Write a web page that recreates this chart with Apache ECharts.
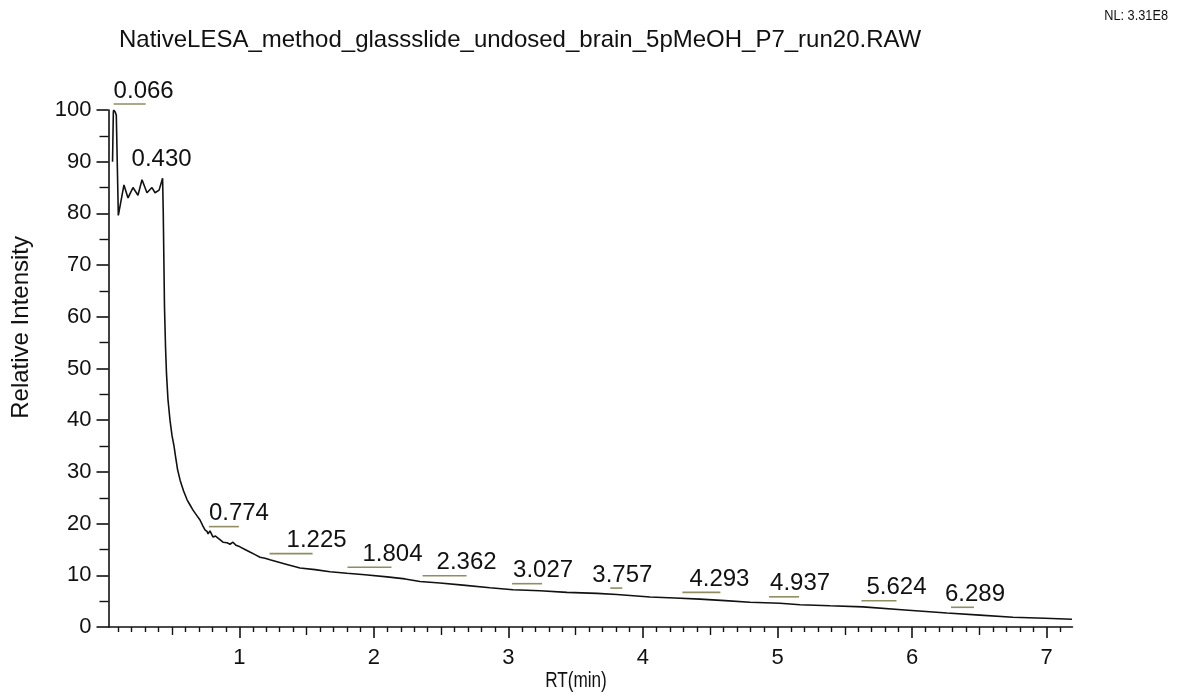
<!DOCTYPE html>
<html>
<head>
<meta charset="utf-8">
<script src="https://cdn.jsdelivr.net/npm/echarts@6/dist/echarts.min.js"></script>
<style>
  html, body { margin: 0; padding: 0; background: #fff; }
  #chart { width: 1185px; height: 700px; }
</style>
</head>
<body>
<div id="chart"></div>
<script>
// Chromatogram trace: retention time (min) and relative intensity (%)
const retentionTimes = [
  0.058, 0.064, 0.066, 0.078, 0.086, 0.101,
  0.143, 0.173, 0.210, 0.247, 0.277, 0.314, 0.351, 0.374, 0.404, 0.430,
  0.435, 0.439, 0.444, 0.452, 0.459, 0.470, 0.485, 0.500, 0.515, 0.526,
  0.541, 0.560, 0.586, 0.612, 0.634, 0.656, 0.686, 0.708, 0.730, 0.745,
  0.760, 0.768, 0.775, 0.782, 0.805, 0.823, 0.842, 0.879, 0.909, 0.931,
  0.953, 0.976, 1.005, 1.042, 1.079, 1.117, 1.154, 1.191, 1.228,
  1.340, 1.451, 1.563, 1.674, 1.800, 1.934, 2.098, 2.232, 2.343, 2.491,
  2.662, 2.863, 3.034, 3.235, 3.435, 3.658, 3.806, 4.052, 4.238, 4.424,
  4.610, 4.795, 5.018, 5.167, 5.390, 5.635, 5.947, 6.259, 6.504, 6.749,
  6.987, 7.188
];
const relativeIntensity = [
  90.0, 99.5, 100.0, 99.6, 99.0, 79.6,
  85.5, 83.0, 85.0, 83.5, 86.5, 84.0, 85.0, 84.0, 84.5, 86.8,
  80.0, 72.0, 62.0, 54.0, 49.0, 44.0, 40.0, 37.0, 35.0, 33.0,
  30.5, 28.4, 26.3, 24.6, 23.6, 22.6, 21.5, 20.7, 19.5, 18.8,
  18.5, 18.0, 18.3, 18.6, 17.4, 17.6, 17.2, 16.4, 16.3, 16.0,
  16.4, 15.8, 15.5, 15.0, 14.5, 14.0, 13.5, 13.3, 13.0,
  12.2, 11.4, 11.1, 10.7, 10.4, 10.1, 9.7, 9.3, 8.8, 8.5,
  8.1, 7.6, 7.2, 7.0, 6.7, 6.5, 6.3, 5.8, 5.6, 5.4,
  5.1, 4.8, 4.6, 4.3, 4.1, 3.9, 3.3, 2.7, 2.3, 1.9,
  1.7, 1.5
];

// Labelled peak apex retention times (min)
const peakTimes = [0.066, 0.430, 0.774, 1.225, 1.804, 2.362, 3.027, 3.757, 4.293, 4.937, 5.624, 6.289];

// Axis ticks
const xTickLabels = [1, 2, 3, 4, 5, 6, 7];
const yTickStep = 10;

// Label placement (pixels): horizontal text shift and underline length
const peakTextShift = [0, -31, 0, 17, 15, 14, 1, -18, 7, 1, 5, -6];
const peakUnderline = [32, 0, 30, 43, 44, 44, 30, 12, 38, 30, 35, 23];

const FONT = "'Liberation Sans', Arial, sans-serif";
const X_MIN = 0.028, X_MAX = 7.192;

const traceData = retentionTimes.map((t, i) => [t, relativeIntensity[i]]);

// height of the trace at a given time, used to seat each peak label on the line
function traceAt(t) {
  for (let i = 1; i < retentionTimes.length; i++) {
    if (t <= retentionTimes[i]) {
      const t0 = retentionTimes[i - 1], t1 = retentionTimes[i];
      const f = (t - t0) / (t1 - t0);
      return relativeIntensity[i - 1] + f * (relativeIntensity[i] - relativeIntensity[i - 1]);
    }
  }
  return relativeIntensity[relativeIntensity.length - 1];
}
const peakData = peakTimes.map(t => [t, traceAt(t)]);

const tenthTicks = [], halfTicks = [];
for (let k = 1; k <= 71; k++) {
  const v = +(k / 10).toFixed(1);
  if (k % 5 !== 0) tenthTicks.push(v);
  else if (k % 10 !== 0) halfTicks.push(v);
}

function xAxisBase(extra) {
  return Object.assign({
    type: 'value', min: X_MIN, max: X_MAX, position: 'bottom',
    splitLine: { show: false },
    axisLine: { show: false },
    axisLabel: { show: false },
    axisTick: { show: false }
  }, extra);
}

const chart = echarts.init(document.getElementById('chart'), null, { renderer: 'canvas' });
chart.setOption({
  animation: false,
  backgroundColor: '#fff',
  textStyle: { fontFamily: FONT },
  title: [
    {
      text: 'NativeLESA_method_glassslide_undosed_brain_5pMeOH_P7_run20.RAW',
      left: 114, top: 23,
      textStyle: { fontFamily: FONT, fontSize: 24, fontWeight: 'normal', color: '#111' }
    }
  ],
  grid: { left: 108.5, top: 110, width: 964, height: 517, containLabel: false },
  xAxis: [
    xAxisBase({
      axisLine: { show: true, lineStyle: { color: '#111', width: 1.6 } },
      axisTick: { show: true, customValues: tenthTicks, length: 5, lineStyle: { color: '#111', width: 1.4 } }
    }),
    xAxisBase({
      axisTick: { show: true, customValues: halfTicks, length: 8, lineStyle: { color: '#111', width: 1.4 } }
    }),
    xAxisBase({
      axisTick: { show: true, customValues: xTickLabels, length: 11, lineStyle: { color: '#111', width: 1.6 } },
      axisLabel: { show: true, customValues: xTickLabels, margin: 20, fontFamily: FONT, fontSize: 22, color: '#111' }
    })
  ],
  yAxis: {
    type: 'value', min: 0, max: 100, interval: yTickStep,
    splitLine: { show: false },
    axisLine: { show: true, lineStyle: { color: '#111', width: 1.6 } },
    axisTick: { show: true, length: 12, lineStyle: { color: '#111', width: 1.6 } },
    minorTick: { show: true, splitNumber: 2, length: 9, lineStyle: { color: '#111', width: 1.4 } },
    axisLabel: { margin: 17, fontFamily: FONT, fontSize: 22, color: '#111' }
  },
  graphic: [
    {
      type: 'text', left: 9, top: 236, rotation: Math.PI / 2,
      style: { text: 'Relative Intensity', font: "24px 'Liberation Sans', Arial, sans-serif", fill: '#111' }
    },
    {
      type: 'text', x: 576, y: 681, scaleX: 0.78, origin: [0, 0],
      style: { text: 'RT(min)', font: "22px 'Liberation Sans', Arial, sans-serif", fill: '#111', align: 'center', verticalAlign: 'middle' }
    },
    {
      type: 'text', x: 1168, y: 16, scaleX: 0.85,
      style: { text: 'NL: 3.31E8', font: "15px 'Liberation Sans', Arial, sans-serif", fill: '#111', align: 'right', verticalAlign: 'middle' }
    }
  ],
  series: [
    {
      name: 'TIC', type: 'line', xAxisIndex: 0, data: traceData,
      showSymbol: false, symbol: 'none', smooth: false,
      lineStyle: { color: '#111', width: 1.6 }, z: 3
    },
    {
      name: 'Peak labels', type: 'custom', xAxisIndex: 0, data: peakData, clip: false, z: 4,
      renderItem: function (params, api) {
        const p = api.coord([api.value(0), api.value(1)]);
        const i = params.dataIndex;
        const children = [];
        if (peakUnderline[i] > 0) {
          children.push({
            type: 'line',
            shape: { x1: p[0], y1: p[1] - 6, x2: p[0] + peakUnderline[i], y2: p[1] - 6 },
            style: { stroke: '#8e8e62', lineWidth: 1.6 }
          });
        }
        children.push({
          type: 'text',
          x: p[0] + peakTextShift[i], y: p[1] - 19,
          style: {
            text: api.value(0).toFixed(3),
            font: "24px 'Liberation Sans', Arial, sans-serif",
            fill: '#111', align: 'left', verticalAlign: 'middle'
          }
        });
        return { type: 'group', children: children };
      }
    }
  ]
});
</script>
</body>
</html>
